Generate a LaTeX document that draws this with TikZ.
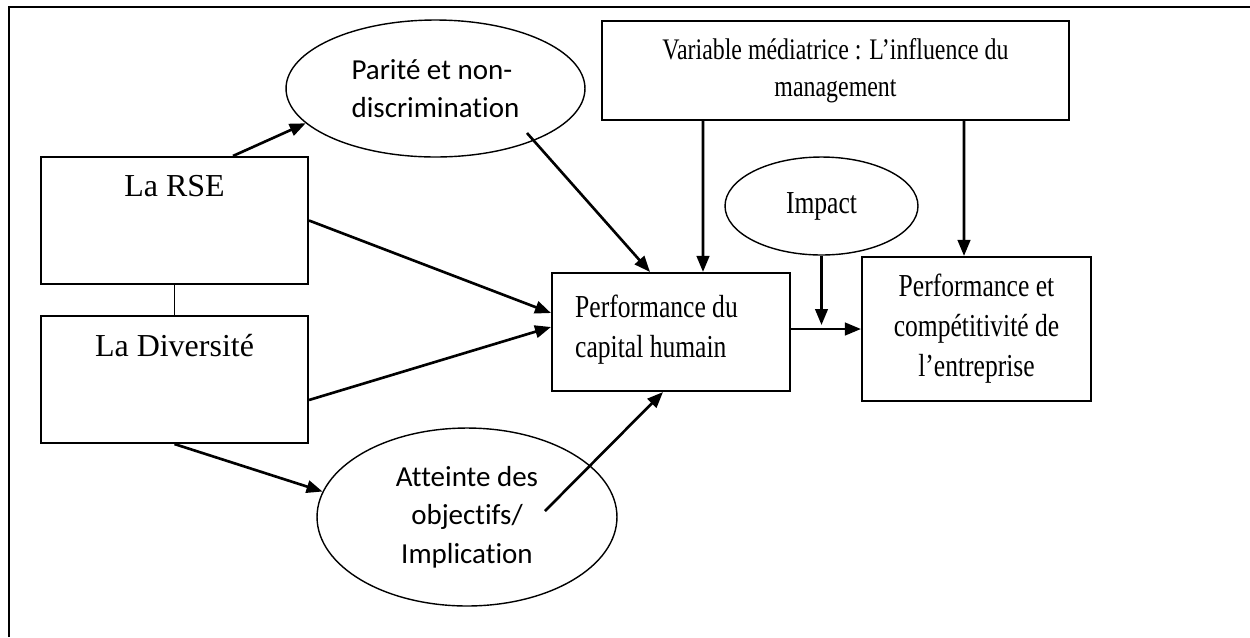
\documentclass[tikz,border=0pt]{standalone}
\usepackage{fontspec}
\setmainfont{Liberation Serif}
\newfontfamily\narrowserif[FakeStretch=0.8]{Liberation Serif}
\newfontfamily\calibri[Ligatures=NoCommon]{Carlito}
\usetikzlibrary{arrows.meta,shapes.geometric}

\begin{document}
\begin{tikzpicture}[x=0.02cm,y=-0.02cm,
  box/.style={draw,line width=1.2pt,inner sep=0pt},
  bubble/.style={draw,ellipse,line width=0.8pt,inner sep=0pt},
  link/.style={line width=1.5pt,-{Triangle[length=0.32cm,width=0.25cm]}},
  serif/.style={font=\fontsize{18.2}{22.7}\selectfont},
  narrow/.style={font=\narrowserif\fontsize{18.2}{22.7}\selectfont},
  sans/.style={font=\calibri\fontsize{16.5}{22}\selectfont}]
\useasboundingbox (0,0) rectangle (1250,637);
% cadre
\draw[line width=1.1pt] (9,637) -- (9,7) -- (1250,7);
% boites de gauche
\node[box,minimum width=5.34cm,minimum height=2.54cm] (rse) at (174.5,220.5) {};
\node[serif] (rsetxt) at ([yshift=-0.6cm]rse.north) {La RSE};
\node[box,minimum width=5.34cm,minimum height=2.54cm] (div) at (174.5,379.5) {};
\node[serif] (divtxt) at ([yshift=-0.62cm]div.north) {La Diversité};
\draw[line width=1.1pt] (rse) -- (div);
% ellipses
\node[bubble,sans,align=left,minimum width=5.98cm,minimum height=2.74cm] (parite) at (435.5,88.5) {Parité et non-\\discrimination};
\node[bubble,sans,align=center,minimum width=6cm,minimum height=3.56cm] (att) at (467,517) {Atteinte des\\objectifs/\\Implication};
\node[bubble,narrow,minimum width=3.86cm,minimum height=1.96cm] (impact) at (821.5,206) {Impact};
% boites de droite
\node[box,minimum width=4.76cm,minimum height=2.36cm] (perf) at (671,332) {};
\node[narrow,align=left] (perftxt) at (656.5,330) {Performance du\\capital humain};
\node[box,align=center,font=\narrowserif\fontsize{17}{21}\selectfont,minimum width=9.34cm,minimum height=1.98cm] (var) at (835.5,70.5) {Variable médiatrice : L’influence du\\management};
\node[box,narrow,align=center,minimum width=4.58cm,minimum height=2.88cm] (pc) at (976.5,329) {Performance et\\compétitivité de\\l’entreprise};
% fleches
\draw[link] ([xshift=1.17cm]rse.north) -- (parite.195);
\draw[link] ([xshift=1.83cm,yshift=-0.89cm]parite.center) -- ([xshift=-0.42cm]perf.north);
\draw[link] (rse.east) -- ([yshift=0.38cm]perf.west);
\draw[link] ([yshift=-0.41cm]div.east) -- ([yshift=0.1cm]perf.west);
\draw[link] (div.south) -- (att.170);
\draw[link] ([xshift=1.56cm,yshift=0.12cm]att.center) -- ([xshift=-0.16cm]perf.south);
\draw[link] ([xshift=-2.65cm]var.south) -- ([xshift=0.64cm]perf.north);
\draw[link] ([xshift=2.57cm]var.south) -- ([xshift=-0.25cm]pc.north);
\coordinate (join) at (impact.south |- pc.west);
\draw[link] (impact.south) -- ([yshift=0.08cm]join);
\draw[link] (perf.east |- pc.west) -- (pc.west);
\end{tikzpicture}
\end{document}
